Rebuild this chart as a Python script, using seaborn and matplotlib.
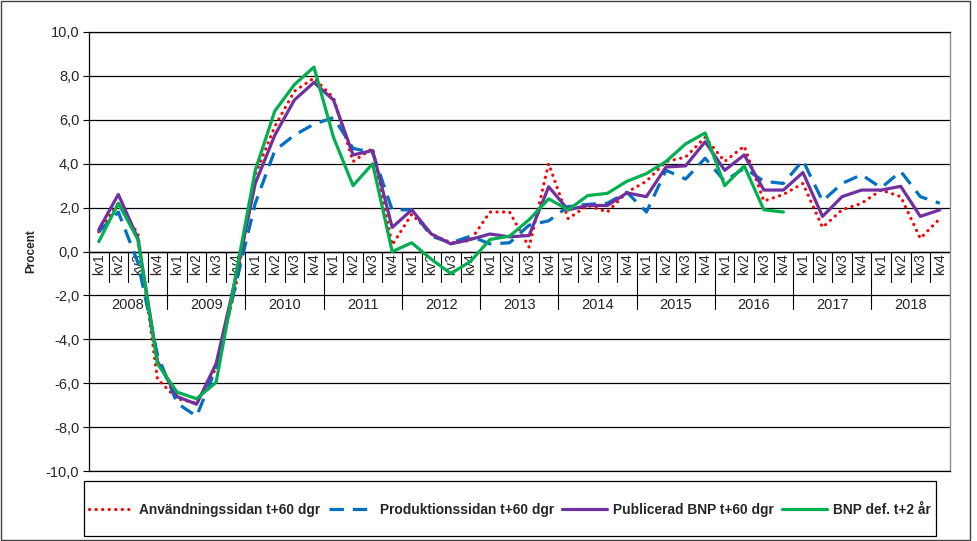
import numpy as np
import pandas as pd
import matplotlib
matplotlib.use("Agg")
import matplotlib.pyplot as plt
import matplotlib.patches as mpatches
import seaborn as sns

years = ["2008", "2009", "2010", "2011", "2012", "2013",
         "2014", "2015", "2016", "2017", "2018"]
quarters = ["kv1", "kv2", "kv3", "kv4"]

anv = [0.9, 2.2, 0.8, -5.8,   -6.7, -6.9, -5.3, -1.6,
       3.5, 5.7, 7.3, 7.9,    7.0, 4.1, 4.7, 0.3,
       1.7, 0.8, 0.4, 0.5,    1.8, 1.8, 0.2, 4.0,
       1.5, 2.1, 1.8, 2.7,    3.2, 4.1, 4.3, 5.2,
       4.1, 4.8, 2.3, 2.6,    3.1, 1.1, 1.9, 2.2,
       2.8, 2.5, 0.6, 1.5]

prod = [0.9, 1.8, -0.5, -4.7,  -6.9, -7.5, -5.3, -1.5,
        2.2, 4.6, 5.3, 5.8,    6.1, 4.7, 4.5, 1.9,
        1.9, 0.7, 0.4, 0.7,    0.35, 0.4, 1.2, 1.4,
        2.05, 2.15, 2.2, 2.7,  1.8, 3.7, 3.3, 4.25,
        3.2, 3.8, 3.2, 3.1,    4.15, 2.3, 3.1, 3.5,
        2.9, 3.65, 2.5, 2.2]

publ = [1.0, 2.6, 0.6, -5.0,   -6.6, -6.95, -5.1, -1.2,
        3.1, 5.3, 6.9, 7.7,    6.9, 4.4, 4.6, 1.1,
        1.9, 0.8, 0.35, 0.55,  0.8, 0.67, 0.73, 2.95,
        1.9, 2.1, 2.1, 2.67,   2.5, 3.85, 3.9, 5.0,
        3.7, 4.4, 2.8, 2.8,    3.6, 1.6, 2.5, 2.8,
        2.8, 2.97, 1.6, 1.9]

bnp_def = [0.45, 2.2, 0.55, -5.1,  -6.4, -6.7, -5.95, -1.1,
           3.7, 6.4, 7.6, 8.4,     5.2, 3.0, 4.0, 0.0,
           0.4, -0.35, -1.0, -0.45, 0.55, 0.7, 1.45, 2.4,
           1.9, 2.55, 2.65, 3.2,   3.55, 4.1, 4.9, 5.4,
           3.0, 3.9, 1.9, 1.8] + [np.nan] * 8

series = {
    "Användningssidan t+60 dgr": anv,
    "Produktionssidan t+60 dgr": prod,
    "Publicerad BNP t+60 dgr": publ,
    "BNP def. t+2 år": bnp_def,
}

sns.set_theme(style="white")
plt.rcParams["font.family"] = ["Liberation Sans", "DejaVu Sans"]

n = len(years) * len(quarters)
idx = np.arange(n)
df = pd.DataFrame({"idx": idx, **series})

fig = plt.figure(figsize=(9.78, 5.41), dpi=100)
ax = fig.add_axes([0.091, 0.129, 0.880, 0.812])

styles = {
    "Användningssidan t+60 dgr": dict(color="#FF0000", linestyle=(0, (0.05, 2.0)),
                                      dash_capstyle="round"),
    "Produktionssidan t+60 dgr": dict(color="#0070C0", linestyle=(0, (4.5, 2.8))),
    "Publicerad BNP t+60 dgr": dict(color="#7030A0", linestyle="-"),
    "BNP def. t+2 år": dict(color="#00B050", linestyle="-"),
}

for name in series:
    sub = df[["idx", name]].dropna()
    sns.lineplot(data=sub, x="idx", y=name, ax=ax, label=name,
                 linewidth=2.3, sort=False, **styles[name])

ax.set_xlim(-0.5, n - 0.5)
ax.set_ylim(-10, 10)
yt = np.arange(-10, 11, 2)
ax.set_yticks(yt)
ax.set_yticklabels([f"{v:.1f}".replace(".", ",") for v in yt], fontsize=10.5)
ax.tick_params(axis="y", direction="out", length=4, width=0.8, color="black",
               left=True, pad=3)
ax.set_xticks([])
ax.set_xlabel("")
ax.set_ylabel("Procent", fontsize=8.5, fontweight="bold", labelpad=6)
ax.grid(axis="y", color="black", linewidth=0.9)
ax.set_axisbelow(True)
for side in ["left", "bottom", "top"]:
    ax.spines[side].set_color("black")
    ax.spines[side].set_linewidth(0.9)
ax.spines["right"].set_color("#909090")
ax.spines["right"].set_linewidth(1.0)
ax.axhline(0, color="black", linewidth=1.0, zorder=1)

# category axis at y = 0: quarter labels and year labels
for i in range(n):
    ax.text(i, -0.08, quarters[i % 4], rotation=90, ha="center", va="top",
            fontsize=10, zorder=1)
for k in range(1, n):
    low = -2.6 if k % 4 == 0 else -1.4
    ax.plot([k - 0.5, k - 0.5], [0, low], color="black", linewidth=0.8,
            zorder=1)
ax.plot([n - 0.5, n - 0.5], [0, -2.6], color="black", linewidth=0.8, zorder=1)
for j, yr in enumerate(years):
    ax.text(4 * j + 1.5, -2.1, yr, ha="center", va="top", fontsize=10.5,
            zorder=1)

ax.get_legend().remove()
handles, labels = ax.get_legend_handles_labels()
fig.legend(handles, labels, ncol=4, loc="center", bbox_to_anchor=(0.521, 0.058),
           frameon=False, handlelength=3.3, columnspacing=0.6, handletextpad=0.4,
           prop={"weight": "bold", "size": 9.9})

fig.patches.append(mpatches.Rectangle((84 / 978, 1 - 536 / 541), 852 / 978, 55 / 541,
                                      transform=fig.transFigure, fill=False,
                                      edgecolor="black", linewidth=0.9))
fig.patches.append(mpatches.Rectangle((1 / 978, 1 / 541), 969 / 978, 539 / 541,
                                      transform=fig.transFigure, fill=False,
                                      edgecolor="#404040", linewidth=1.0))

fig.savefig("out.png", dpi=100)
